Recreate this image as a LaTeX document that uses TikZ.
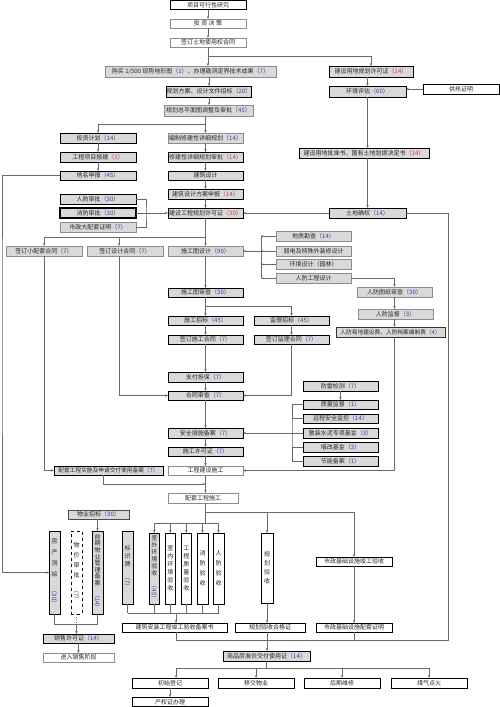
\documentclass[tikz,border=0pt]{standalone}
\usepackage{fontspec}
\usepackage{graphicx}
\setmainfont{Noto Sans CJK SC}
\usetikzlibrary{arrows.meta,calc}
\definecolor{boxgray}{HTML}{D9D9D9}
\definecolor{bordergray}{HTML}{8C8C8C}
\definecolor{conngray}{HTML}{6A6A6A}
\definecolor{numblue}{HTML}{3B3BA0}
\definecolor{numred}{HTML}{C83C3C}
\newcommand\myfs{\fontsize{6}{7}\selectfont}
\newcommand\numb[1]{\textcolor{numblue}{（#1）}}
\newcommand\numr[1]{\textcolor{numred}{（#1）}}
\newcommand\mybox[7]{\node[#2, minimum width={(#5-#3)*1pt}, minimum height={(#6-#4)*1pt}] (#1) at ({(#3+#5)/2},{(#4+#6)/2}) {#7};}
\begin{document}
\begin{tikzpicture}[x=1pt,y=-1pt,
 base/.style={draw, inner sep=0pt, outer sep=0pt, font=\myfs, text=black!85},
 gd/.style={base, fill=boxgray, draw=black, line width=1pt},
 gg/.style={base, fill=boxgray, draw=bordergray, line width=0.6pt},
 wd/.style={base, fill=white, draw=black, line width=0.7pt},
 wg/.style={base, fill=white, draw=bordergray, line width=0.6pt},
 vtext/.style={align=center, font=\fontsize{6}{#1}\selectfont},
 conn/.style={draw=conngray, line width=0.55pt},
 arr/.style={conn, -{Stealth[length=3pt,width=2.4pt]}},
 tinyarr/.style={conn, -{Stealth[length=2pt,width=1.8pt]}}]
\useasboundingbox (0,0) rectangle (500,707);
% ---------- boxes ----------
\mybox{kx}{wd,line width=1pt}{170}{0.5}{246}{9.5}{项目可行性研究}
\mybox{tzjc}{wg}{170}{19}{246}{28}{投\ 资\ 决\ 策}
\mybox{qdtd}{wg}{170}{38}{246}{47}{签订土地使用权合同}
\mybox{gm}{gg}{105}{66}{276}{77}{购买 1/500 现势地形图\numb{1}、办理勘测定界技术成果\numb{7}}
\mybox{jsyd}{gd}{329}{66}{413}{77}{建设用地规划许可证\numr{14}}
\mybox{ghfa}{gd}{168}{86}{250}{97}{规划方案、设计文件招标\numb{20}}
\mybox{hjpg}{gd}{329}{86}{406}{97}{环境评估\numb{60}}
\mybox{grzm}{wd}{423}{84}{499}{94}{供热证明}
\mybox{zpm}{gg}{164}{105}{253}{116}{规划总平面图调整及审批\numb{45}}
\mybox{tzjh}{gd}{60}{133}{136}{143}{投资计划\numb{14}}
\mybox{bzxj}{gg}{168}{133}{243}{143}{编制修建性详细规划\numb{14}}
\mybox{gcxm}{gd}{60}{152}{136}{162}{工程项目报建\numr{1}}
\mybox{xjsp}{gd}{168}{152}{243}{162}{修建性详细规划审批\numr{14}}
\mybox{dmsb}{gd}{60}{171}{136}{180}{地名申报\numb{45}}
\mybox{jzsj}{gd}{168}{171}{243}{180}{建筑设计}
\mybox{pzs}{gd}{299}{148}{429}{158}{建设用地批准书、国有土地划拨决定书\numr{14}}
\mybox{jzfa}{gd}{168}{189}{243}{199}{建筑设计方案申报\numr{14}}
\mybox{rfsp}{gd}{60}{194}{136}{204}{人防审批\numb{30}}
\mybox{xfsp}{gd,line width=1.3pt}{60}{208}{136}{218}{消防审批\numb{30}}
\mybox{szdp}{gg}{60}{222}{136}{232}{市政大配套证明\numb{7}}
\mybox{jsgc}{gd}{168}{208}{243}{218}{建设工程规划许可证\numr{30}}
\mybox{tdqq}{gd}{329}{208}{406}{218}{土地确权\numb{14}}
\mybox{qdxp}{gg}{6}{246}{82}{256}{签订小配套合同\numb{7}}
\mybox{qdsj}{gg}{87}{246}{163}{256}{签订设计合同\numb{7}}
\mybox{sgtsj}{gg}{168}{246}{243}{256}{施工图设计\numb{90}}
\mybox{dzkc}{gg}{276}{231}{351}{241}{地质勘查\numb{14}}
\mybox{rd}{gg}{276}{246}{351}{256}{弱电及特殊外装修设计}
\mybox{hjsj}{gg}{276}{259.5}{351}{269}{环境设计（园林）}
\mybox{rfgc}{gg}{276}{273.5}{351}{283}{人防工程设计}
\mybox{rftz}{gg}{357}{287}{432}{297}{人防图纸审查\numb{30}}
\mybox{rfjd}{gg}{358}{309}{433}{319}{人防监督\numb{3}}
\mybox{rfyd}{gg,draw=black!80}{336}{327}{445}{337}{\fontsize{5.7}{7}\selectfont 人防易地建设费、人防档案编制费\numb{4}}
\mybox{sgtsc}{gd}{168}{288}{243}{297}{施工图审查\numb{30}}
\mybox{sgzb}{gd}{168}{316}{243}{325}{施工招标\numb{45}}
\mybox{jlzb}{gd}{254}{316}{329}{325}{监理招标\numb{45}}
\mybox{qdsg}{gd}{168}{335}{243}{344}{签订施工合同\numb{7}}
\mybox{qdjl}{gd}{254}{335}{329}{344}{签订监理合同\numb{7}}
\mybox{zfdb}{gd}{168}{372}{243}{382}{支付担保\numb{7}}
\mybox{htsc}{gd}{168}{391}{243}{400}{合同审查\numb{7}}
\mybox{aqcs}{gd}{168}{428}{243}{438}{安全措施备案\numb{7}}
\mybox{sgxk}{gd}{168}{447}{243}{456}{施工许可证\numb{7}}
\mybox{gcjs}{wg}{168}{466}{243}{475}{工程建设施工}
\mybox{ptss}{gd}{54}{466}{163}{475}{\fontsize{5.7}{7}\selectfont 配套工程实施及申请交付使用备案\numb{7}}
\mybox{ptsg}{wg}{168}{493}{238}{503}{配套工程施工}
\mybox{fljc}{gd}{303}{381}{378}{391}{防雷检测\numb{7}}
\mybox{zljd}{gd}{303}{400}{378}{409}{质量监督\numb{1}}
\mybox{ycaq}{gd}{303}{414}{378}{423}{远程安全监控\numb{14}}
\mybox{szsn}{gd}{303}{428}{378}{438}{散装水泥专项基金\numb{3}}
\mybox{qgjj}{gd}{303}{442}{378}{452}{墙改基金\numb{3}}
\mybox{jnba}{gd}{303}{456}{378}{466}{节能备案\numb{1}}
\mybox{wyzb}{gg,draw=black!70}{68}{510}{129}{519}{物业招标\numb{30}}
\mybox{fcch}{gd,vtext=11}{49}{531}{60}{614}{房\\产\\测\\绘\\\rotatebox{-90}{\numb{30}}}
\mybox{wjsp}{wd,dashed,vtext=10}{71}{531}{82}{614}{物\\价\\审\\批\\\rotatebox{-90}{\numb{7}}}
\mybox{qqwy}{gd,vtext=6.6}{92}{531}{103}{614}{前\\期\\物\\业\\管\\理\\备\\案\\\rotatebox{-90}{\numb{14}}}
\mybox{xsxk}{gd}{43}{634}{114}{643}{销售许可证\numb{14}}
\mybox{jrxs}{wg}{43}{653}{114}{662}{进入销售阶段}
\mybox{bsp}{gd,vtext=8}{122}{531}{133}{604}{标\\识\\牌\\\rotatebox{-90}{\numb{7}}}
\mybox{swhj}{gd,vtext=7}{149}{533}{159.5}{604}{室\\外\\环\\境\\验\\收\\\rotatebox{-90}{\numb{45}}}
\mybox{snhj}{wd,vtext=8}{165}{533}{175.5}{604}{室\\内\\环\\境\\验\\收}
\mybox{gczl}{wd,vtext=8}{181}{533}{191.5}{604}{工\\程\\质\\量\\验\\收}
\mybox{xfys}{wd,vtext=10}{197}{533}{208}{604}{消\\防\\验\\收}
\mybox{rfys}{wd,vtext=10}{213}{533}{224}{604}{人\\防\\验\\收}
\mybox{jzaz}{wd}{122}{623}{227}{632}{建筑安装工程竣工验收备案书}
\mybox{ghys}{wd,vtext=9}{261}{533}{273}{603}{规\\划\\验\\收}
\mybox{ghhg}{wd}{235}{623}{305}{632}{规划验收合格证}
\mybox{szjg}{wd}{316}{557}{392}{566}{市政基础设施竣工验收}
\mybox{szpt}{wd}{316}{623}{392}{632}{市政基础设施配套证明}
\mybox{sph}{gd}{223}{651}{310}{661}{商品房准许交付使用证\numb{14}}
\mybox{csdj}{wd,line width=0.9pt}{132}{678}{208}{688}{初始登记}
\mybox{yjwy}{wd,line width=0.9pt}{218}{678}{294}{688}{移交物业}
\mybox{hqwx}{wd,line width=0.9pt}{304}{678}{380}{688}{后期维修}
\mybox{mqdh}{wd,line width=0.9pt}{391}{678}{467}{688}{煤气点火}
\mybox{cqz}{wd,line width=0.9pt}{132}{697}{208}{706.5}{产权证办理}
% ---------- connectors ----------
\draw[arr] (kx.south) -- (tzjc.north);
\draw[arr] (tzjc.south) -- (qdtd.north);
\draw[arr] (qdtd.south) -- (qdtd.south |- gm.north);
\coordinate (T1) at (208,56);
\draw[arr] (T1) -| (jsyd.north);
\draw[arr] (ghfa.north |- gm.south) -- (ghfa.north);
\draw[arr] (ghfa.south) -- (ghfa.south |- zpm.north);
\draw[arr] (bzxj.north |- zpm.south) -- (bzxj.north);
\coordinate (T2) at (205.5,124);
\draw[arr] (T2) -| (tzjh.north);
\draw[arr] (tzjh.south) -- (gcxm.north);
\draw[arr] (gcxm.south) -- (dmsb.north);
\draw[arr] (bzxj.south) -- (xjsp.north);
\draw[arr] (xjsp.south) -- (jzsj.north);
\draw[arr] (jzsj.south) -- (jzfa.north);
\draw[arr] (jzfa.south) -- (jsgc.north);
\draw[arr] (hjpg.north |- jsyd.south) -- (hjpg.north);
\draw[arr] (grzm.west) -- (grzm.west -| hjpg.east);
\draw[arr] (hjpg.south) -- (hjpg.south |- pzs.north);
\draw[arr] (hjpg.south |- pzs.south) -- (tdqq.north);
\draw[arr] (tdqq.west) -- (jsgc.east);
\coordinate (b1) at (146,213);
\draw[conn] (rfsp.east) -| (b1) |- (szdp.east);
\draw[arr] (xfsp.east) -- (jsgc.west);
\draw[arr] (jsgc.south) -- (sgtsj.north);
\coordinate (j1) at (205.5,237);
\draw[arr] (j1) -| (qdxp.north);
\draw[arr] (j1) -| ([xshift=-6pt]qdsj.north);
\coordinate (b2) at (261,251);
\draw[conn] (b2 |- dzkc.west) -- (b2 |- rfgc.west);
\foreach \n in {dzkc,rd,hjsj,rfgc} \draw[tinyarr] (\n.west) -- (\n.west -| b2);
\draw[arr] (b2) -- (sgtsj.east);
\draw[arr] (rfgc.east) -| (rftz.north);
\draw[arr] (rftz.south) -- (rftz.south |- rfjd.north);
\draw[arr] (rftz.south |- rfjd.south) -- (rftz.south |- rfyd.north);
\draw[arr] (rftz.south |- rfyd.south) |- (gcjs.east);
\draw[arr] (sgtsj.south) -- (sgtsc.north);
\draw[arr] (sgtsc.south) -- (sgzb.north);
\coordinate (j2) at (205.5,306);
\draw[arr] (j2) -| (jlzb.north);
\draw[arr] (sgzb.south) -- (qdsg.north);
\draw[arr] (jlzb.south) -- (qdjl.north);
\draw[arr] (qdsg.south) -- (zfdb.north);
\draw[arr] (zfdb.south) -- (htsc.north);
\draw[arr] (htsc.south) -- (aqcs.north);
\draw[arr] (aqcs.south) -- (sgxk.north);
\draw[arr] (sgxk.south) -- (gcjs.north);
\draw[arr] (gcjs.south) -- (gcjs.south |- ptsg.north);
\draw[arr] (qdjl.south) |- (htsc.east);
\draw[arr] ([xshift=-6pt]qdsj.south) |- (htsc.west);
\draw[arr] (qdxp.south) |- (ptss.west);
\coordinate (m1) at (205.5,484);
\draw[arr] ([xshift=-5.5pt]ptss.south) |- (m1);
\draw[arr] (fljc.south) -- (zljd.north);
\coordinate (b3) at (292,433);
\draw[conn] (zljd.west) -| (b3) |- (jnba.west);
\draw[conn] (ycaq.west) -- (ycaq.west -| b3);
\draw[conn] (qgjj.west) -- (qgjj.west -| b3);
\draw[arr] (szsn.west) -- (aqcs.east);
\coordinate (R1) at (448,640);
\coordinate (B1) at (176,640);
\draw[conn] (tdqq.east) -| (R1) -- (B1);
\draw[conn] (jzaz.south -| B1) -- (B1);
\draw[conn] (szpt.south) -- (szpt.south |- R1);
\coordinate (L1) at (2,300);
\draw[arr] (dmsb.west) -| (L1) |- (fcch.west);
\coordinate (V0) at (205.5,512);
\coordinate (V1) at (205.5,523);
\draw[conn] (ptsg.south -| V0) -- (V1);
\draw[arr] (V0) -| (szjg.north);
\draw[arr] (V0 -| ghys.north) -- (ghys.north);
\draw[conn] (swhj.north |- V1) -- (rfys.north |- V1);
\foreach \n in {swhj,snhj,gczl,xfys,rfys} \draw[arr] (\n.north |- V1) -- (\n.north);
\coordinate (V2) at (176,613);
\draw[conn] (bsp.south |- V2) -- (rfys.south |- V2);
\foreach \n in {bsp,swhj,snhj,gczl,xfys,rfys} \draw[conn] (\n.south) -- (\n.south |- V2);
\draw[arr] (V2) -- (V2 |- jzaz.north);
\draw[arr] (ghys.south) -- (ghys.south |- ghhg.north);
\draw[arr] (ghys.south |- ghhg.south) -- (ghys.south |- sph.north);
\draw[arr] (szjg.south) -- (szpt.north);
\draw[arr] (qqwy.north |- wyzb.south) -- (qqwy.north);
\coordinate (V3) at (76.5,624);
\draw[conn] (fcch.south) |- (V3);
\draw[conn] (qqwy.south) |- (V3);
\draw[conn, dotted, line width=0.8pt] (wjsp.south) -- (V3);
\draw[arr] (V3) -- (V3 |- xsxk.north);
\draw[arr] (xsxk.south) -- (jrxs.north);
\coordinate (V4) at (266.5,668);
\coordinate (F1) at (176,668);
\coordinate (F4) at (429,668);
\draw[conn] (sph.south) -- (V4);
\draw[conn] (F1) -- (F4);
\draw[arr] (F1) -- (F1 |- csdj.north);
\draw[arr] (yjwy.north |- V4) -- (yjwy.north);
\draw[arr] (hqwx.north |- V4) -- (hqwx.north);
\draw[arr] (F4) -- (F4 |- mqdh.north);
\draw[arr] (csdj.south) -- (cqz.north);
\end{tikzpicture}
\end{document}
